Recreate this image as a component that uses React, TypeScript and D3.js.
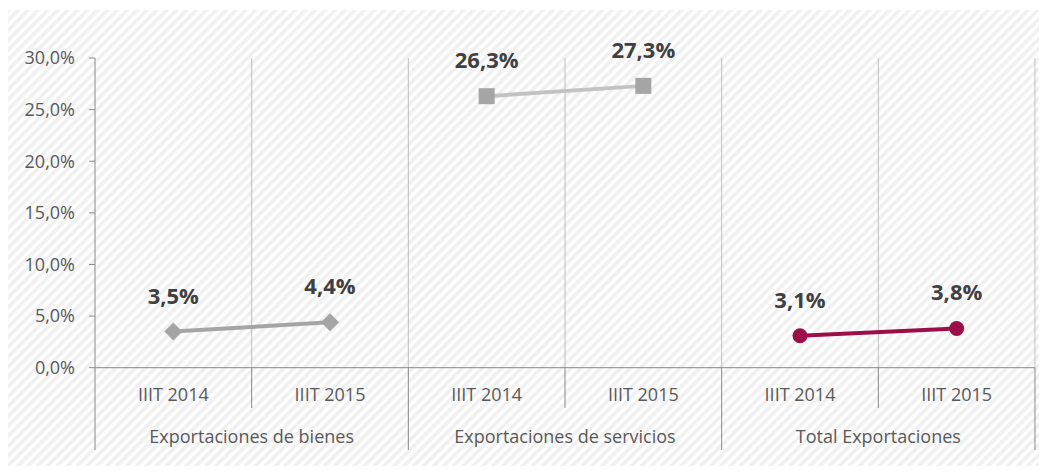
import React from 'react';
import * as d3 from 'd3';

const groups = ['Exportaciones de bienes', 'Exportaciones de servicios', 'Total Exportaciones'];
const periods = ['IIIT 2014', 'IIIT 2015'];
const bienes = [3.5, 4.4];
const servicios = [26.3, 27.3];
const total = [3.1, 3.8];
const yTicks = [0, 5, 10, 15, 20, 25, 30];

const W = 1031;
const H = 458;
const FONT = '"Open Sans", "Liberation Sans", sans-serif';

const series = [
  { group: 0, values: bienes, marker: 'diamond', color: '#a5a5a5', line: '#a5a5a5' },
  { group: 1, values: servicios, marker: 'square', color: '#a5a5a5', line: '#c3c3c3' },
  { group: 2, values: total, marker: 'circle', color: '#9c0e47', line: '#9c0e47' },
];

const fmt = (v: number) => v.toFixed(1).replace('.', ',') + '%';

export default function App() {
  const cats = groups.flatMap((g, gi) => periods.map((p, pi) => `${gi}-${pi}`));
  const x = d3.scaleBand<string>().domain(cats).range([87, 1027]).padding(0);
  const y = d3.scaleLinear().domain([0, 30]).range([359.7, 50]);
  const cx = (key: string) => (x(key) as number) + x.bandwidth() / 2;
  const line = d3.line<[number, number]>().x(d => d[0]).y(d => d[1]);

  const boundaries = d3.range(cats.length + 1).map(i => 87 + i * x.bandwidth());

  return (
    <svg width={W} height={H} style={{ display: 'block' }} fontFamily={FONT}>
      <defs>
        <pattern id="hatch" width="7" height="7" patternUnits="userSpaceOnUse" patternTransform="rotate(45)">
          <rect width="7" height="7" fill="#ffffff" />
          <rect width="3.5" height="7" fill="#f0f0f0" />
        </pattern>
      </defs>
      <rect x={0} y={2} width={1033} height={456} fill="url(#hatch)" />

      {/* vertical grid / separators */}
      {boundaries.map((bx, i) => (
        <line key={i} x1={bx} x2={bx} y1={y(30)} y2={y(0)}
          stroke={i === 0 ? '#898989' : '#bfbfbf'} strokeWidth={1} />
      ))}
      {boundaries.map((bx, i) => (
        <line key={'b' + i} x1={bx} x2={bx} y1={y(0)} y2={i % 2 === 0 ? 442 : 400}
          stroke="#898989" strokeWidth={1} />
      ))}

      {/* y axis ticks and labels */}
      {yTicks.map(t => (
        <g key={t}>
          <line x1={81} x2={87} y1={y(t)} y2={y(t)} stroke="#898989" />
          <text x={67} y={y(t)} dy="0.35em" textAnchor="end" fontSize={18} fill="#595959">
            {fmt(t)}
          </text>
        </g>
      ))}
      <line x1={87} x2={1027} y1={y(0)} y2={y(0)} stroke="#898989" strokeWidth={1} />

      {/* category labels */}
      {cats.map((c, i) => (
        <text key={c} x={cx(c)} y={387} dy="0.35em" textAnchor="middle" fontSize={18} fill="#595959">
          {periods[i % 2]}
        </text>
      ))}
      {groups.map((g, gi) => (
        <text key={g} x={(cx(`${gi}-0`) + cx(`${gi}-1`)) / 2} y={429} dy="0.35em" textAnchor="middle"
          fontSize={18} fill="#595959">
          {g}
        </text>
      ))}

      {/* series */}
      {series.map(s => {
        const pts: [number, number][] = s.values.map((v, pi) => [cx(`${s.group}-${pi}`), y(v)]);
        return (
          <g key={s.group}>
            <path d={line(pts) as string} fill="none" stroke={s.line} strokeWidth={4} />
            {pts.map(([px, py], i) => (
              <g key={i}>
                {s.marker === 'diamond' && (
                  <path d={`M${px},${py - 9}L${px + 9},${py}L${px},${py + 9}L${px - 9},${py}Z`} fill={s.color} />
                )}
                {s.marker === 'square' && (
                  <rect x={px - 8} y={py - 8} width={16} height={16} fill={s.color} />
                )}
                {s.marker === 'circle' && <circle cx={px} cy={py} r={7.5} fill={s.color} />}
                <text x={px} y={py - 28} textAnchor="middle" fontSize={22} fontWeight="bold" fill="#404040">
                  {fmt(s.values[i])}
                </text>
              </g>
            ))}
          </g>
        );
      })}
    </svg>
  );
}
